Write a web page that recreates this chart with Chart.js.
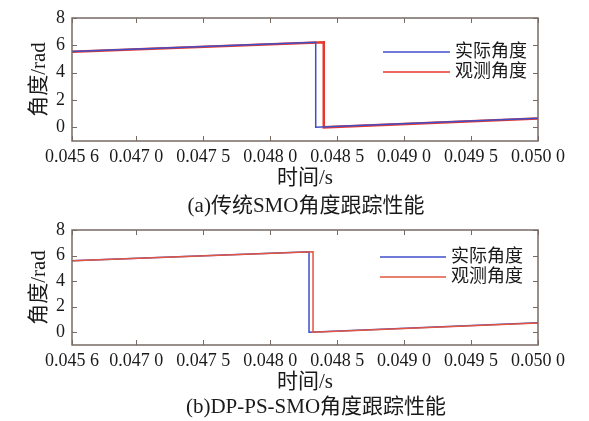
<!DOCTYPE html>
<html>
<head>
<meta charset="utf-8">
<script src="https://cdn.jsdelivr.net/npm/chart.js@4.4.1/dist/chart.umd.min.js"></script>
<style>
  html, body { margin:0; padding:0; background:#fff; }
  body { width:589px; height:421px; position:relative; overflow:hidden; }
  canvas { position:absolute; left:0; }
  #chartA { top:0; }
  #chartB { top:210px; }
  .caption {
    position:absolute; left:0; width:612px; text-align:center;
    font-family:"Liberation Serif","Noto Sans CJK SC",serif; font-size:21px; color:#1a1a1a;
    line-height:24px;
  }
</style>
</head>
<body>
<canvas id="chartA" width="589" height="195"></canvas>
<canvas id="chartB" width="589" height="185"></canvas>
<div class="caption" style="top:193px">(a)传统SMO角度跟踪性能</div>
<div class="caption" style="top:394px; left:10px">(b)DP-PS-SMO角度跟踪性能</div>
<script>
// axis ticks
const xTickValues = [0.04652, 0.0470, 0.0475, 0.0480, 0.0485, 0.0490, 0.0495, 0.0500];
const xTickLabels = ['0.045 6', '0.047 0', '0.047 5', '0.048 0', '0.048 5', '0.049 0', '0.049 5', '0.050 0'];
const yTickValues = [0, 2, 4, 6, 8];
const seriesNames = ['实际角度', '观测角度'];

// (a) traditional SMO
const timeActualA   = [0.04652, 0.04834, 0.04834, 0.0500];
const angleActualA  = [5.55, 6.22, 0.0, 0.66];
const timeObservedA = [0.04652, 0.04840, 0.04840, 0.0500];
const angleObservedA = [5.53, 6.22, 0.0, 0.64];

// (b) DP-PS-SMO
const timeActualB   = [0.04652, 0.04829, 0.04829, 0.0500];
const angleActualB  = [5.6, 6.3, 0.0, 0.74];
const timeObservedB = [0.04652, 0.04832, 0.04832, 0.0500];
const angleObservedB = [5.6, 6.3, 0.0, 0.73];

const serif = '"Liberation Serif","Noto Sans CJK SC",serif';
const textColor = '#1a1a1a';
const boxColor = '#786b64';

const pts = (xs, ys) => xs.map((x, i) => ({x, y: ys[i]}));

// MATLAB style box with inward ticks
const matlabBox = {
  id: 'matlabBox',
  afterDraw(chart){
    const {ctx, chartArea:a, scales:{x, y}} = chart;
    ctx.save();
    ctx.strokeStyle = boxColor;
    ctx.lineWidth = 1;
    x.ticks.forEach(t=>{
      const px = Math.round(x.getPixelForValue(t.value)) + 0.5;
      ctx.beginPath();
      ctx.moveTo(px, a.bottom); ctx.lineTo(px, a.bottom - 5);
      ctx.moveTo(px, a.top); ctx.lineTo(px, a.top + 5);
      ctx.stroke();
    });
    y.ticks.forEach(t=>{
      const py = Math.round(y.getPixelForValue(t.value)) + 0.5;
      ctx.beginPath();
      ctx.moveTo(a.left, py); ctx.lineTo(a.left + 5, py);
      ctx.moveTo(a.right, py); ctx.lineTo(a.right - 5, py);
      ctx.stroke();
    });
    ctx.lineWidth = 1.5;
    ctx.strokeRect(a.left, a.top, a.right - a.left, a.bottom - a.top);
    ctx.restore();
  }
};

// legend drawn inside the axes, like MATLAB
const innerLegend = {
  id: 'innerLegend',
  afterDatasetsDraw(chart, args, opts){
    const ctx = chart.ctx;
    ctx.save();
    chart.data.datasets.forEach((ds, i)=>{
      const y = opts.y + i * opts.rowGap;
      ctx.strokeStyle = ds.borderColor;
      ctx.lineWidth = 1.5;
      ctx.beginPath();
      ctx.moveTo(opts.x, y); ctx.lineTo(opts.x + opts.len, y);
      ctx.stroke();
      ctx.fillStyle = textColor;
      ctx.font = '18px ' + serif;
      ctx.textBaseline = 'middle';
      ctx.fillText(ds.label, opts.x + opts.len + 5, y);
    });
    ctx.restore();
  }
};

function makeChart(id, datasets, g){
  const H = document.getElementById(id).height;
  return new Chart(document.getElementById(id), {
    type: 'line',
    data: { datasets },
    options: {
      responsive: false,
      animation: false,
      layout: { padding: { top: g.top, right: 51, left: 0, bottom: 0 } },
      elements: { point: { radius: 0 }, line: { tension: 0 } },
      scales: {
        x: {
          type: 'linear',
          min: xTickValues[0],
          max: xTickValues[xTickValues.length - 1],
          afterBuildTicks: s => { s.ticks = xTickValues.map(v => ({value: v})); },
          afterFit: s => { s.height = H - g.bottom; },
          ticks: {
            autoSkip: false, maxRotation: 0, padding: 5,
            color: textColor, font: { family: serif, size: 18 },
            callback: (v, i) => xTickLabels[i]
          },
          grid: { display: false, drawTicks: false },
          border: { display: false },
          title: { display: true, text: '时间/s', color: textColor,
                   font: { family: serif, size: 21 }, padding: { top: 0, bottom: g.xTitlePad } }
        },
        y: {
          min: -1, max: 8,
          afterBuildTicks: s => { s.ticks = yTickValues.map(v => ({value: v})); },
          afterFit: s => { s.width = 72; },
          ticks: { padding: 7, color: textColor, font: { family: serif, size: 18 } },
          grid: { display: false, drawTicks: false },
          border: { display: false },
          title: { display: true, text: '角度/rad', color: textColor,
                   font: { family: serif, size: 21 }, padding: { top: 27, bottom: 0 } }
        }
      },
      plugins: {
        legend: { display: false },
        tooltip: { enabled: false },
        innerLegend: g.legend
      }
    },
    plugins: [matlabBox, innerLegend]
  });
}

makeChart('chartA', [
  { label: seriesNames[0], data: pts(timeActualA, angleActualA), borderColor: '#3f4fc8', borderWidth: 1.5, order: 0 },
  { label: seriesNames[1], data: pts(timeObservedA, angleObservedA), borderColor: '#e8372c', borderWidth: 2.5, order: 1 }
], { top: 18, bottom: 141, xTitlePad: 4, legend: { x: 383, y: 52, rowGap: 20, len: 67 } });

makeChart('chartB', [
  { label: seriesNames[0], data: pts(timeActualB, angleActualB), borderColor: '#3f4fc8', borderWidth: 1.5, order: 1 },
  { label: seriesNames[1], data: pts(timeObservedB, angleObservedB), borderColor: '#e2553f', borderWidth: 1.5, order: 0 }
], { top: 20, bottom: 135, xTitlePad: 0, legend: { x: 380, y: 47, rowGap: 20, len: 66 } });
</script>
</body>
</html>
